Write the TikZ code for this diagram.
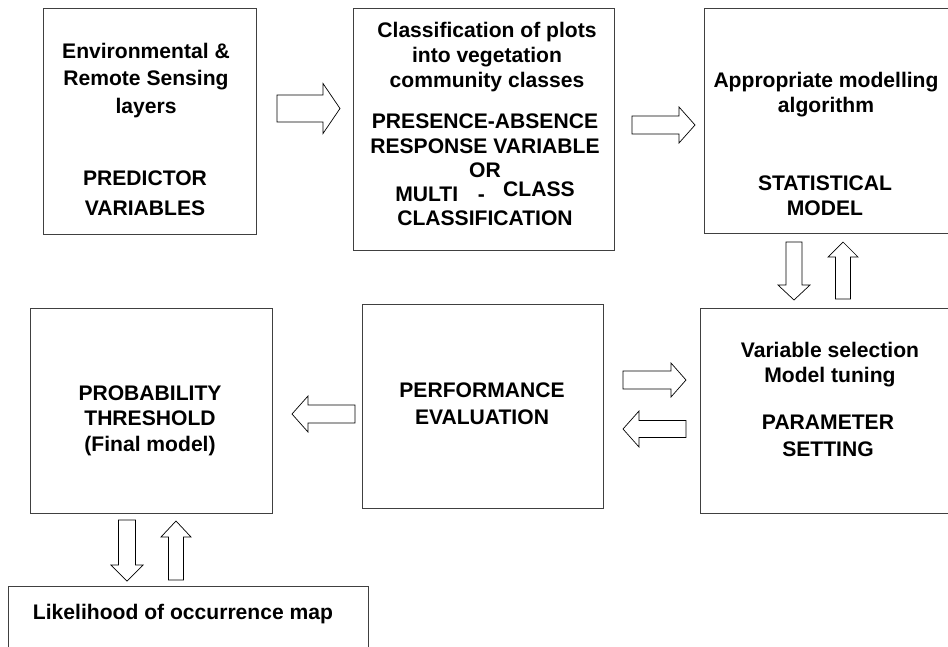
\documentclass[tikz,border=0pt]{standalone}
\usepackage{fontspec}
\setmainfont{Liberation Sans}

\tikzset{
	box/.style={draw=black!75, line width=0.6pt, fill=white, inner sep=0pt},
	txt/.style={font=\fontsize{15}{18}\selectfont\bfseries, align=center, inner sep=0pt},
	arrowline/.style={draw=black, line width=0.5pt, fill=white},
	pics/hollowarrow/.style args={#1/#2/#3/#4}{code={
		\draw[arrowline] (0,-#2) -- (#1-#4,-#2) -- (#1-#4,-#3) -- (#1,0)
			-- (#1-#4,#3) -- (#1-#4,#2) -- (0,#2) -- cycle;
	}}
}

\begin{document}
\begin{tikzpicture}[x=0.025cm, y=-0.025cm]
	\useasboundingbox (0,0) rectangle (948,646);
	\fill[white] (0,0) rectangle (948,646);
	\clip (0,0) rectangle (948,646);
	% Kaesten oben
	\node[box, minimum width=5.325cm, minimum height=5.65cm] (env) at (149.5,121) {};
	\node[box, minimum width=6.525cm, minimum height=6.05cm] (cls) at (483.5,129) {};
	\node[box, minimum width=6.4cm, minimum height=5.625cm] (stat) at (832,120.5) {};
	% Kaesten unten
	\node[box, minimum width=6.05cm, minimum height=5.125cm] (prob) at (151,410.5) {};
	\node[box, minimum width=6.025cm, minimum height=5.1cm] (perf) at (482.5,406) {};
	\node[box, minimum width=6.5cm, minimum height=5.125cm] (param) at (830,410.5) {};
	\node[box, minimum width=9cm, minimum height=2.1cm] (lik) at (188,628) {};
	% Texte
	\node[txt, font=\fontsize{15}{19.5}\selectfont\bfseries] (envA) at (146,80.5)
		{Environmental \&\\Remote Sensing\\layers};
	\node[txt, font=\fontsize{15}{21.3}\selectfont\bfseries] (envB) at (145,193)
		{PREDICTOR\\VARIABLES};
	\node[txt, font=\fontsize{15}{17.7}\selectfont\bfseries] (clsA) at (487,57)
		{Classification of plots\\into vegetation\\community classes};
	\node[txt, font=\fontsize{15}{17.2}\selectfont\bfseries] (clsB) at (485,170)
		{PRESENCE-ABSENCE\\RESPONSE VARIABLE\\OR\\
		MULTI\hspace{14pt}-\hspace{13pt}\raisebox{3.5pt}{CLASS}\\CLASSIFICATION};
	\node[txt, font=\fontsize{15}{17.7}\selectfont\bfseries] (statA) at (826,94.5)
		{Appropriate modelling\\algorithm};
	\node[txt, font=\fontsize{15}{17.7}\selectfont\bfseries] (statB) at (825,195.5)
		{STATISTICAL\\MODEL};
	\node[txt, font=\fontsize{15}{17.7}\selectfont\bfseries] (paramA) at (830,364.5)
		{Variable selection\\Model tuning};
	\node[txt, font=\fontsize{15}{19.2}\selectfont\bfseries] (paramB) at (828,435.5)
		{PARAMETER\\SETTING};
	\node[txt, font=\fontsize{15}{19.2}\selectfont\bfseries] (perfA) at (482,403.5)
		{PERFORMANCE\\EVALUATION};
	\node[txt, font=\fontsize{15}{18.1}\selectfont\bfseries] (probA) at (150,420.5)
		{PROBABILITY\\THRESHOLD\\(Final model)};
	\node[txt] (likA) at (183,614) {Likelihood of occurrence map};
	% Pfeile
	\pic (envcls) at (277,108.5) {hollowarrow=63/13.5/25/17};
	\pic (clsstat) at (632,125) {hollowarrow=63/9/18/16};
	\pic[rotate=-90] (statparam) at (794,242) {hollowarrow=58/8/16/15};
	\pic[rotate=90] (paramstat) at (843,299) {hollowarrow=57/7.5/15/15};
	\pic (perfparam) at (623,380) {hollowarrow=63/9/17/15};
	\pic[rotate=180] (paramperf) at (686,429) {hollowarrow=63/8.5/18/16};
	\pic[rotate=180] (perfprob) at (355,414) {hollowarrow=63/9/18/16};
	\pic[rotate=-90] (problik) at (127,520) {hollowarrow=61/8.5/16/16};
	\pic[rotate=90] (likprob) at (176,580) {hollowarrow=59/7.5/15/16};
\end{tikzpicture}
\end{document}
